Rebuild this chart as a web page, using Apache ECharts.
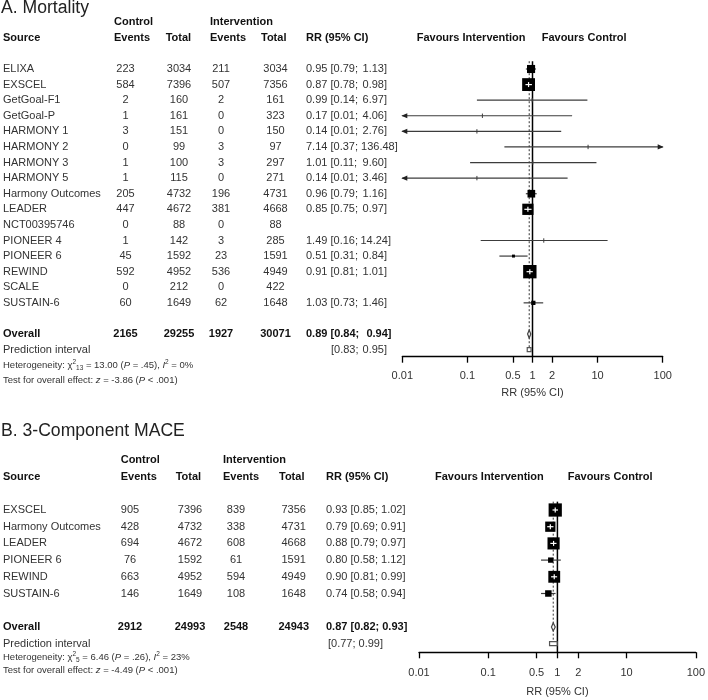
<!DOCTYPE html>
<html><head><meta charset="utf-8">
<script src="https://cdn.jsdelivr.net/npm/echarts@6/dist/echarts.min.js"></script>
<style>html,body{margin:0;padding:0;background:#fff}#c{width:708px;height:700px}</style>
</head><body><div id="c"></div>
<script>
// ---------- Panel A: Mortality ----------
const studiesA = ['ELIXA','EXSCEL','GetGoal-F1','GetGoal-P','HARMONY 1','HARMONY 2','HARMONY 3','HARMONY 5','Harmony Outcomes','LEADER','NCT00395746','PIONEER 4','PIONEER 6','REWIND','SCALE','SUSTAIN-6'];
const ctrlEventsA = [223,584,2,1,3,0,1,1,205,447,0,1,45,592,0,60];
const ctrlTotalA  = [3034,7396,160,161,151,99,100,115,4732,4672,88,142,1592,4952,212,1649];
const intEventsA  = [211,507,2,0,0,3,3,0,196,381,0,3,23,536,0,62];
const intTotalA   = [3034,7356,161,323,150,97,297,271,4731,4668,88,285,1591,4949,422,1648];
const rrA    = [0.95,0.87,0.99,0.17,0.14,7.14,1.01,0.14,0.96,0.85,null,1.49,0.51,0.91,null,1.03];
const lowerA = [0.79,0.78,0.14,0.009,0.008,0.37,0.11,0.008,0.79,0.75,null,0.16,0.31,0.81,null,0.73];
const upperA = [1.13,0.98,6.97,4.06,2.76,136.48,9.60,3.46,1.16,0.97,null,14.24,0.84,1.01,null,1.46];
const weightA = [10.5,26.4,0.1,0.1,0.1,0.1,0.1,0.1,9.4,20.3,0,0.1,1.4,28.6,0,2.9];
const overallA = {ce:2165, ct:29255, ie:1927, it:30071, rr:0.89, lo:0.84, hi:0.94, plo:0.83, phi:0.95};
const hetA = {df:'13', chi:'13.00', p:'.45', i2:'0%', z:'-3.86', pz:'< .001'};

// ---------- Panel B: 3-Component MACE ----------
const studiesB = ['EXSCEL','Harmony Outcomes','LEADER','PIONEER 6','REWIND','SUSTAIN-6'];
const ctrlEventsB = [905,428,694,76,663,146];
const ctrlTotalB  = [7396,4732,4672,1592,4952,1649];
const intEventsB  = [839,338,608,61,594,108];
const intTotalB   = [7356,4731,4668,1591,4949,1648];
const rrB    = [0.93,0.79,0.88,0.80,0.90,0.74];
const lowerB = [0.85,0.69,0.79,0.58,0.81,0.58];
const upperB = [1.02,0.91,0.97,1.12,0.99,0.94];
const weightB = [25,15,21,4,20,6];
const overallB = {ce:2912, ct:24993, ie:2548, it:24943, rr:0.87, lo:0.82, hi:0.93, plo:0.77, phi:0.99};
const hetB = {df:'5', chi:'6.46', p:'.26', i2:'23%', z:'-4.49', pz:'< .001'};

// ---------- Axis ticks ----------
const tickValues = [0.01,0.1,0.5,1,2,10,100];
const tickLabels = ['0.01','0.1','0.5','1','2','10','100'];

const FONT = '"Liberation Sans", Arial, Helvetica, sans-serif';
const f2 = v => v.toFixed(2);

function textLayer(xi, items) {
  return {
    type:'custom', xAxisIndex:xi, yAxisIndex:xi, silent:true, clip:false, z:5,
    data: items.map(it => [it.x, it.row]),
    renderItem: (p, api) => {
      const it = items[p.dataIndex];
      const pt = api.coord([api.value(0), api.value(1)]);
      return {type:'text', x:pt[0], y:pt[1], style:{
        text: it.text, fill: it.color || (it.bold ? '#111' : '#333'),
        fontSize: it.size || 11, fontFamily: FONT, fontWeight: it.bold ? 'bold' : 'normal',
        align: it.align || 'left', verticalAlign:'middle', rich: it.rich
      }};
    }
  };
}

const richHet = {
  sup:{fontSize:6.5, padding:[0,0,6,0], fill:'#333', fontFamily:FONT},
  sub:{fontSize:6.5, padding:[5,0,0,0], fill:'#333', fontFamily:FONT},
  i:{fontStyle:'italic', fontSize:9.5, fill:'#333', fontFamily:FONT}
};

function tableItems(cfg) {
  const c = cfg.cols, items = [];
  items.push({x:c.hCtl, row:-3, text:'Control', bold:true});
  items.push({x:c.hInt, row:-3, text:'Intervention', bold:true});
  items.push({x:c.src, row:-2, text:'Source', bold:true});
  items.push({x:c.hCtl, row:-2, text:'Events', bold:true});
  items.push({x:c.hCtlT, row:-2, text:'Total', bold:true});
  items.push({x:c.hInt, row:-2, text:'Events', bold:true});
  items.push({x:c.hIntT, row:-2, text:'Total', bold:true});
  items.push({x:c.rr, row:-2, text:'RR (95% CI)', bold:true});
  items.push({x:c.favI, row:-2, text:'Favours Intervention', bold:true});
  items.push({x:c.favC, row:-2, text:'Favours Control', bold:true});
  cfg.studies.forEach((s, i) => {
    items.push({x:c.src, row:i, text:s});
    items.push({x:c.ce, row:i, text:String(cfg.ce[i]), align:'center'});
    items.push({x:c.ct, row:i, text:String(cfg.ct[i]), align:'center'});
    items.push({x:c.ie, row:i, text:String(cfg.ie[i]), align:'center'});
    items.push({x:c.it, row:i, text:String(cfg.it[i]), align:'center'});
    if (cfg.rr[i] != null) {
      const lo = Math.max(cfg.lo[i], 0.01);
      if (cfg.split && cfg.hi[i] < 100) {
        items.push({x:c.rr, row:i, text:f2(cfg.rr[i]) + ' [' + f2(lo) + ';'});
        items.push({x:c.rrR + (cfg.hi[i] >= 10 ? 4 : 0), row:i, text:f2(cfg.hi[i]) + ']', align:'right'});
      } else {
        items.push({x:c.rr, row:i, text:f2(cfg.rr[i]) + ' [' + f2(lo) + '; ' + f2(cfg.hi[i]) + ']'});
      }
    }
  });
  const o = cfg.overall, ro = cfg.studies.length + 1;
  items.push({x:c.src, row:ro, text:'Overall', bold:true});
  items.push({x:c.ce, row:ro, text:String(o.ce), align:'center', bold:true});
  items.push({x:c.ct, row:ro, text:String(o.ct), align:'center', bold:true});
  items.push({x:c.ie, row:ro, text:String(o.ie), align:'center', bold:true});
  items.push({x:c.it, row:ro, text:String(o.it), align:'center', bold:true});
  if (cfg.split) {
    items.push({x:c.rr, row:ro, text:f2(o.rr) + ' [' + f2(o.lo) + ';', bold:true});
    items.push({x:c.rrRB, row:ro, text:f2(o.hi) + ']', align:'right', bold:true});
    items.push({x:c.pred, row:ro+1, text:'[' + f2(o.plo) + ';'});
    items.push({x:c.predR, row:ro+1, text:f2(o.phi) + ']', align:'right'});
  } else {
    items.push({x:c.rr, row:ro, text:f2(o.rr) + ' [' + f2(o.lo) + '; ' + f2(o.hi) + ']', bold:true});
    items.push({x:c.pred, row:ro+1, text:'[' + f2(o.plo) + '; ' + f2(o.phi) + ']'});
  }
  items.push({x:c.src, row:ro+1, text:'Prediction interval'});
  const h = cfg.het;
  items.push({x:c.src, row:cfg.hetRow, size:9.5,
    text:'Heterogeneity: χ{sup|2}{sub|' + h.df + '} = ' + h.chi + ' ({i|P} = ' + h.p + '), {i|I}{sup|2} = ' + h.i2,
    rich:richHet});
  items.push({x:c.src, row:cfg.testRow, size:9.5,
    text:'Test for overall effect: {i|z} = ' + h.z + ' ({i|P} ' + h.pz + ')', rich:richHet});
  return items;
}

function forestSeries(xi, studies, rr, lo, hi, w, k) {
  const data = [];
  rr.forEach((v, i) => { if (v != null) data.push([v, lo[i], hi[i], i, w[i]]); });
  return {
    type:'custom', xAxisIndex:xi, yAxisIndex:xi, clip:false, silent:true, z:4, data,
    renderItem: (p, api) => {
      const v = api.value(0), l = api.value(1), u = api.value(2), row = api.value(3), wt = api.value(4);
      const lc = Math.max(l, 0.01), uc = Math.min(u, 100);
      const pL = api.coord([lc, row]), pR = api.coord([uc, row]), pM = api.coord([v, row]);
      const y = pM[1], s = Math.sqrt(wt) * k;
      const ch = [];
      ch.push({type:'line', shape:{x1:pL[0], y1:y, x2:pR[0], y2:y}, style:{stroke:'#3c3c3c', lineWidth:1.2}});
      if (l < 0.01) ch.push({type:'polygon', shape:{points:[[pL[0]-1,y],[pL[0]+5,y-2.6],[pL[0]+5,y+2.6]]}, style:{fill:'#222'}});
      if (u > 100) ch.push({type:'polygon', shape:{points:[[pR[0]+1,y],[pR[0]-5,y-2.6],[pR[0]-5,y+2.6]]}, style:{fill:'#222'}});
      if (s >= 2) ch.push({type:'rect', shape:{x:pM[0]-s/2, y:y-s/2, width:s, height:s}, style:{fill:'#000'}});
      if (s > 9.5) {
        const a = Math.max(pL[0], pM[0]-s/2+2), b = Math.min(pR[0], pM[0]+s/2-2);
        ch.push({type:'line', shape:{x1:a, y1:y, x2:b, y2:y}, style:{stroke:'#fff', lineWidth:1.2}});
        ch.push({type:'line', shape:{x1:pM[0], y1:y-2.5, x2:pM[0], y2:y+2.5}, style:{stroke:'#fff', lineWidth:1.2}});
      } else if (s < 2) {
        ch.push({type:'line', shape:{x1:pM[0], y1:y-2.2, x2:pM[0], y2:y+2.2}, style:{stroke:'#3c3c3c', lineWidth:1}});
      }
      return {type:'group', children:ch};
    }
  };
}

function summarySeries(xi, o, nStudies, yTop, yAxisEnd) {
  const ro = nStudies + 1;
  return {
    type:'custom', xAxisIndex:xi, yAxisIndex:xi, clip:false, silent:true, z:3,
    data:[[0]],
    renderItem: (p, api) => {
      const top1 = api.coord([1, yTop]), bot1 = api.coord([1, yAxisEnd]);
      const topO = api.coord([o.rr, yTop]), botO = api.coord([o.rr, ro + 1]);
      const dL = api.coord([o.lo, ro]), dM = api.coord([o.rr, ro]), dR = api.coord([o.hi, ro]);
      const pL = api.coord([o.plo, ro + 1]), pR = api.coord([o.phi, ro + 1]);
      const ch = [];
      ch.push({type:'line', shape:{x1:topO[0], y1:topO[1], x2:botO[0], y2:botO[1]}, style:{stroke:'#333', lineWidth:1, lineDash:[2,2]}});
      ch.push({type:'line', shape:{x1:top1[0], y1:top1[1], x2:bot1[0], y2:bot1[1]}, style:{stroke:'#000', lineWidth:1.5}});
      ch.push({type:'polygon', shape:{points:[[dL[0],dL[1]],[dM[0],dM[1]-4],[dR[0],dR[1]],[dM[0],dM[1]+4]]}, style:{fill:'#fff', stroke:'#444', lineWidth:1.2}});
      ch.push({type:'rect', shape:{x:pL[0], y:pL[1]-2, width:pR[0]-pL[0], height:4}, style:{fill:'#fff', stroke:'#555', lineWidth:1.2}});
      return {type:'group', children:ch};
    }
  };
}

function fmtTick(v) {
  const i = tickValues.findIndex(t => Math.abs(Math.log10(t) - Math.log10(v)) < 1e-6);
  return i >= 0 ? tickLabels[i] : '';
}

function plotXAxis(gi, labelMargin, nameGap) {
  return {
    gridIndex:gi, type:'log', logBase:10, min:0.01, max:100, position:'bottom',
    axisLine:{show:true, onZero:false, lineStyle:{color:'#000', width:1.3}},
    axisTick:{show:true, length:6, customValues:tickValues, lineStyle:{color:'#000', width:1.3}},
    axisLabel:{show:true, customValues:tickValues, formatter:fmtTick, margin:labelMargin, color:'#333', fontSize:11, fontFamily:FONT},
    splitLine:{show:false}, minorTick:{show:false},
    name:'RR (95% CI)', nameLocation:'middle', nameGap:nameGap,
    nameTextStyle:{color:'#333', fontSize:11, fontFamily:FONT}
  };
}
function hiddenX(gi, min, max) { return {gridIndex:gi, type:'value', min, max, show:false}; }
function hiddenY(gi, min, max) { return {gridIndex:gi, type:'value', min, max, inverse:true, show:false}; }

// Layout (pixels)
const spA = 15.59, r0A = 69, spB = 16.7, r0B = 510;
const axisEndA = (356.7 - r0A) / spA, axisEndB = (652.3 - r0B) / spB;

const colsA = {src:3, hCtl:114, hCtlT:165.7, hInt:210, hIntT:261, rr:306, favI:416.7, favC:541.7,
  ce:125.5, ct:179, ie:221, it:275.5, rrR:387, rrRB:391.5, pred:331, predR:387};
const colsB = {src:3, hCtl:120.7, hCtlT:175.7, hInt:223, hIntT:279, rr:326, favI:435, favC:567.7,
  ce:130, ct:190, ie:236, it:293.7, pred:328};

const itemsA = tableItems({cols:colsA, studies:studiesA, ce:ctrlEventsA, ct:ctrlTotalA, ie:intEventsA, it:intTotalA,
  rr:rrA, lo:lowerA, hi:upperA, overall:overallA, het:hetA, split:true, hetRow:19.03, testRow:20.0});
const itemsB = tableItems({cols:colsB, studies:studiesB, ce:ctrlEventsB, ct:ctrlTotalB, ie:intEventsB, it:intTotalB,
  rr:rrB, lo:lowerB, hi:upperB, overall:overallB, het:hetB, split:false, hetRow:8.82, testRow:9.62});

const option = {
  animation:false,
  backgroundColor:'#fff',
  title:[
    {text:'A. Mortality', left:1, top:-1, padding:0, textStyle:{fontSize:17.6, fontWeight:'normal', color:'#222', fontFamily:FONT}},
    {text:'B. 3-Component MACE', left:1, top:422, padding:0, textStyle:{fontSize:17.6, fontWeight:'normal', color:'#222', fontFamily:FONT}}
  ],
  grid:[
    {left:0, width:708, top:r0A - 4*spA, height:25*spA},
    {left:402.3, width:260.4, top:r0A - spA, height:(axisEndA + 1)*spA},
    {left:0, width:708, top:r0B - 4*spB, height:15*spB},
    {left:419, width:278.3, top:r0B - spB, height:(axisEndB + 1)*spB}
  ],
  xAxis:[hiddenX(0,0,708), plotXAxis(1,14,31), hiddenX(2,0,708), plotXAxis(3,15,34)],
  yAxis:[hiddenY(0,-4,21), hiddenY(1,-1,axisEndA), hiddenY(2,-4,11), hiddenY(3,-1,axisEndB)],
  series:[
    textLayer(0, itemsA),
    summarySeries(1, overallA, studiesA.length, -0.5, axisEndA),
    forestSeries(1, studiesA, rrA, lowerA, upperA, weightA, 2.5),
    textLayer(2, itemsB),
    summarySeries(3, overallB, studiesB.length, -0.5, axisEndB),
    forestSeries(3, studiesB, rrB, lowerB, upperB, weightB, 2.65)
  ]
};
const chart = echarts.init(document.getElementById('c'), null, {renderer:'canvas'});
chart.setOption(option);
</script>
</body></html>
